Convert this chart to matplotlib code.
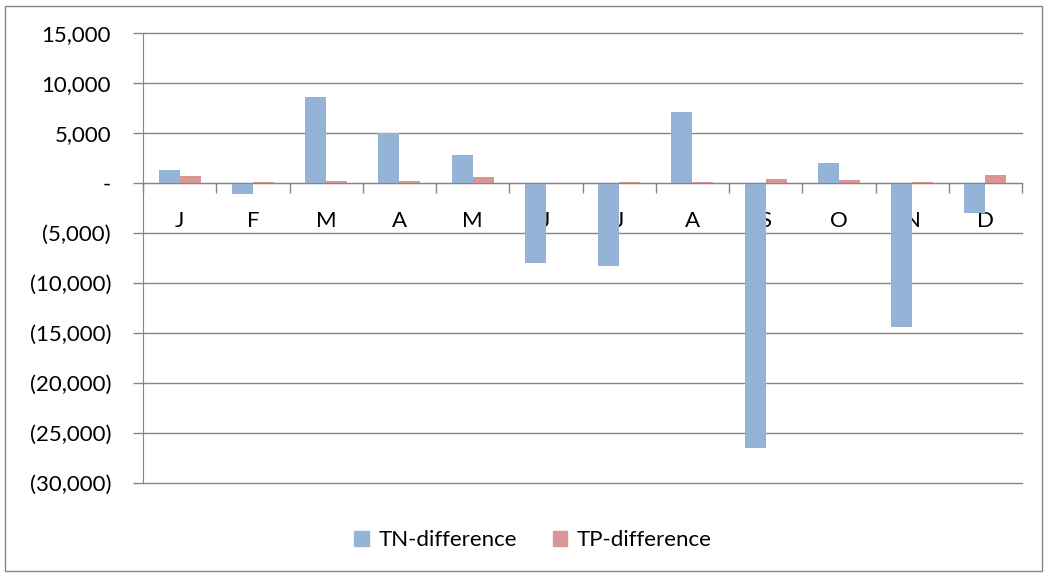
import matplotlib.pyplot as plt
import numpy as np
from matplotlib.patches import Patch, Rectangle
from matplotlib.ticker import FuncFormatter

months = ['J', 'F', 'M', 'A', 'M', 'J', 'J', 'A', 'S', 'O', 'N', 'D']
tn_diff = [1300, -1100, 8600, 5000, 2800, -8000, -8300, 7100, -26500, 2000, -14400, -3000]
tp_diff = [700, 70, 240, 170, 570, 0, 150, 140, 440, 270, 100, 770]

blue = '#95b3d7'
red = '#d99694'
grid = '#868686'
fs = 16

plt.rcParams['font.family'] = ['Lato', 'DejaVu Sans']

fig = plt.figure(figsize=(10.5, 5.77), dpi=100)
ax = fig.add_axes([143 / 1050, 1 - 483 / 577, (1022 - 143) / 1050, 450 / 577])

# outer chart border
fig.patches.append(Rectangle((5 / 1050, 6 / 577), 1037 / 1050, 565 / 577,
                             transform=fig.transFigure, fill=False,
                             edgecolor=grid, linewidth=1))

x = np.arange(len(months))
w = 1 / 3.5
ax.bar(x - w / 2, tn_diff, w, color=blue, zorder=3)
ax.bar(x + w / 2, tp_diff, w, color=red, zorder=3)

ax.set_xlim(-0.5, 11.5)
ax.set_ylim(-30000, 15000)
yt = np.arange(-30000, 15001, 5000)
ax.set_yticks(yt)


def fmt(v, pos):
    if v == 0:
        return '-'
    if v < 0:
        return '({:,.0f})'.format(-v)
    return '{:,.0f}'.format(v)


ax.yaxis.set_major_formatter(FuncFormatter(fmt))
for v in yt:
    ax.axhline(v, color=grid, linewidth=1, zorder=0, clip_on=False)

for s in ['top', 'right']:
    ax.spines[s].set_visible(False)
ax.spines['left'].set_color(grid)
ax.spines['bottom'].set_color(grid)
ax.spines['bottom'].set_position(('data', 0))
ax.spines['bottom'].set_zorder(4)

ax.set_xticks(np.arange(-0.5, 12, 1))
ax.set_xticklabels([])
ax.set_xticks(x, minor=True)
ax.set_xticklabels(months, minor=True)
ax.tick_params(axis='x', which='major', direction='out', length=7, color=grid, width=1)
ax.tick_params(axis='x', which='minor', length=0, pad=20, labelsize=fs)
ax.tick_params(axis='y', direction='out', length=7, color=grid, width=1, labelsize=fs, pad=16)

handles = [Patch(color=blue, label='TN-difference'), Patch(color=red, label='TP-difference')]
fig.legend(handles=handles, loc='center', bbox_to_anchor=(533 / 1050, 1 - 540 / 577),
           ncol=2, frameon=False, fontsize=fs, handlelength=0.65, handleheight=0.65,
           handletextpad=0.45, columnspacing=1.6)

fig.savefig('out.png', dpi=100)
